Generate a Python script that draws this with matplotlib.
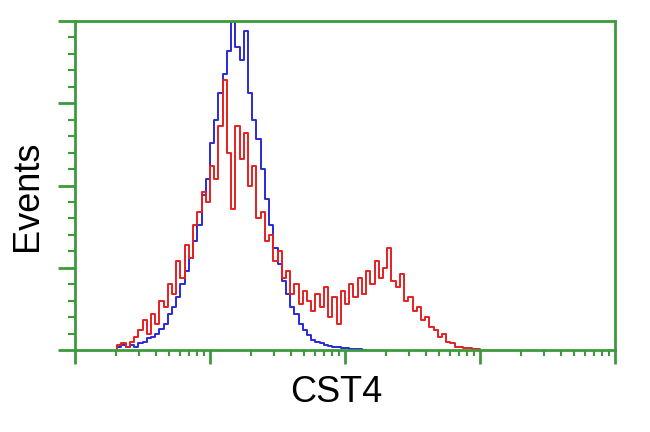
import numpy as np
import matplotlib
matplotlib.use('Agg')
import matplotlib.pyplot as plt
from matplotlib.ticker import MultipleLocator, LogLocator, NullFormatter

# channel index k -> fluorescence 10**(k/32), histogram heights in % of max
first_channel = 10

red_counts = [1.5, 2, 1, 2.5, 4, 6, 9, 5, 11, 8,
              15, 13, 20, 17, 27, 22, 32, 28, 38, 42,
              48, 45, 56, 52, 68, 82, 60, 43, 68, 58,
              66, 50, 56, 40, 42, 33, 35, 27, 30, 22,
              24, 17, 20, 14, 18, 15, 12, 17, 13, 19,
              10, 16, 8, 18, 14, 20, 16, 22, 17, 24,
              20, 27, 22, 25, 31, 21, 19, 23, 15, 16,
              12, 13, 9, 10, 7, 6, 4, 5, 2.5, 2,
              1, 1, 0.5, 0.6, 0.3, 0.2]

blue_counts = [1, 1.5, 0.8, 1.5, 1, 2, 2.5, 3.5, 4, 5,
               6.5, 8, 11, 13, 16, 20, 24, 28, 33, 38,
               47, 52, 63, 70, 78, 84, 91, 100, 92, 88,
               97, 78, 70, 64, 55, 46, 38, 31, 26, 21,
               17, 13, 11, 8, 6, 4.5, 3, 2.5, 2, 1.5,
               1.2, 1, 0.8, 0.7, 0.6, 0.4, 0.3, 0.2, 0.1]

green = '#3c9a3c'


def step_xy(counts):
    k = np.arange(first_channel, first_channel + len(counts) + 1)
    edges = 10 ** (k / 32.0)
    x = np.repeat(edges, 2)[1:-1]
    y = np.repeat(counts, 2)
    x = np.concatenate([[edges[0]], x, [edges[-1]]])
    y = np.concatenate([[0], y, [0]])
    return x, y


fig = plt.figure(figsize=(6.5, 4.32), dpi=100)
ax = fig.add_axes([75 / 650, 1 - 350 / 432, 540 / 650, 329 / 432])

bx, by = step_xy(blue_counts)
rx, ry = step_xy(red_counts)
ax.plot(bx, by, color='#2a2ad8', lw=1.4)
ax.plot(rx, ry, color='#e62020', lw=1.4)

ax.set_xscale('log')
ax.set_xlim(1, 10 ** 4)
ax.set_ylim(0, 100)

for s in ax.spines.values():
    s.set_color(green)
    s.set_linewidth(2)

ax.yaxis.set_major_locator(MultipleLocator(25))
ax.yaxis.set_minor_locator(MultipleLocator(5))
ax.xaxis.set_major_locator(LogLocator(base=10, numticks=10))
ax.xaxis.set_minor_locator(LogLocator(base=10, subs=np.arange(2, 10), numticks=10))
ax.xaxis.set_major_formatter(NullFormatter())
ax.xaxis.set_minor_formatter(NullFormatter())
ax.yaxis.set_major_formatter(NullFormatter())

ax.tick_params(axis='y', which='major', direction='out', length=12, width=2, color=green)
ax.tick_params(axis='y', which='minor', direction='out', length=5, width=1.5, color=green)
ax.tick_params(axis='x', which='major', direction='out', length=10, width=2, color=green)
ax.tick_params(axis='x', which='minor', direction='out', length=4, width=1.5, color=green)

fig.text(336 / 650, 1 - 392 / 432, 'CST4', family='Liberation Sans', fontsize=26,
         ha='center', va='center')
fig.text(27 / 650, 1 - 196 / 432, 'Events', family='Liberation Sans', fontsize=26,
         ha='center', va='center', rotation=90)

fig.savefig('out.png', dpi=100)
